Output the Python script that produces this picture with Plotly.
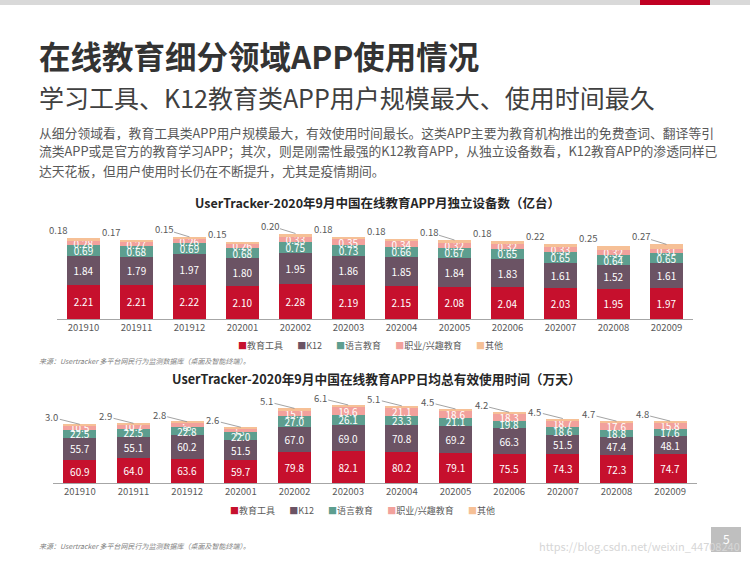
import plotly.graph_objects as go

months = ["201910", "201911", "201912", "202001", "202002", "202003",
          "202004", "202005", "202006", "202007", "202008", "202009"]
series_names = ["教育工具", "K12", "语言教育", "职业/兴趣教育", "其他"]

# Chart 1: monthly unique devices (亿台)
dev_tools = [2.21, 2.21, 2.22, 2.10, 2.28, 2.19, 2.15, 2.08, 2.04, 2.03, 1.95, 1.97]
dev_k12 = [1.84, 1.79, 1.97, 1.80, 1.95, 1.86, 1.85, 1.84, 1.83, 1.61, 1.52, 1.61]
dev_lang = [0.69, 0.68, 0.69, 0.68, 0.75, 0.73, 0.66, 0.67, 0.65, 0.65, 0.64, 0.65]
dev_voc = [0.28, 0.27, 0.26, 0.26, 0.33, 0.35, 0.34, 0.32, 0.32, 0.33, 0.32, 0.31]
dev_other = [0.18, 0.17, 0.15, 0.15, 0.20, 0.18, 0.18, 0.18, 0.18, 0.22, 0.25, 0.27]
dev_leader = [False, False, True, False, True, False, False, True, False, False, False, True]

# Chart 2: daily total effective usage time (万天)
time_tools = [60.9, 64.0, 63.6, 59.7, 79.8, 82.1, 80.2, 79.1, 75.5, 74.3, 72.3, 74.7]
time_k12 = [55.7, 55.1, 60.2, 51.5, 67.0, 69.0, 70.8, 69.2, 66.3, 51.5, 47.4, 48.1]
time_lang = [22.5, 22.5, 22.8, 22.0, 27.0, 26.1, 23.3, 21.1, 19.8, 18.6, 18.8, 17.6]
time_voc = [10.5, 10.7, 9.8, 9.2, 15.1, 19.6, 21.1, 18.6, 18.3, 18.7, 17.6, 15.8]
time_other = [3.0, 2.9, 2.8, 2.6, 5.1, 6.1, 5.1, 4.5, 4.2, 4.5, 4.7, 4.8]

colors = ["#C6102D", "#6B5364", "#5D9E8F", "#F2A19C", "#F6C096"]
FONT = "Noto Sans CJK SC"
W, H = 750, 562

fig = go.Figure()

dev_series = [dev_tools, dev_k12, dev_lang, dev_voc, dev_other]
time_series = [time_tools, time_k12, time_lang, time_voc, time_other]

for i, (name, vals) in enumerate(zip(series_names, dev_series)):
    fig.add_trace(go.Bar(
        x=months, y=vals, name=name, marker_color=colors[i], marker_line_width=0,
        text=None if i == 4 else [f"{v:.2f}" for v in vals],
        textposition="inside", insidetextanchor="middle",
        textfont=dict(color="white", size=10, family=FONT),
        xaxis="x", yaxis="y", showlegend=False, hoverinfo="skip"))

for i, (name, vals) in enumerate(zip(series_names, time_series)):
    fig.add_trace(go.Bar(
        x=months, y=vals, name=name, marker_color=colors[i], marker_line_width=0,
        text=None if i == 4 else [f"{v:.1f}" for v in vals],
        textposition="inside", insidetextanchor="middle",
        textfont=dict(color="white", size=10, family=FONT),
        xaxis="x2", yaxis="y2", showlegend=False, hoverinfo="skip"))

annotations = []
# outside labels for 其他
for j in range(len(months)):
    tot = dev_tools[j] + dev_k12[j] + dev_lang[j] + dev_voc[j] + dev_other[j]
    annotations.append(dict(
        x=j, y=tot, xref="x", yref="y", text=f"{dev_other[j]:.2f}",
        showarrow=True, arrowhead=0, arrowwidth=0.8,
        arrowcolor="#8C8C8C" if dev_leader[j] else "rgba(0,0,0,0)",
        ax=-26, ay=-8, standoff=0,
        font=dict(size=9.5, color="#595959", family=FONT)))
for j in range(len(months)):
    tot = time_tools[j] + time_k12[j] + time_lang[j] + time_voc[j] + time_other[j]
    annotations.append(dict(
        x=j, y=tot, xref="x2", yref="y2", text=f"{time_other[j]:.1f}",
        showarrow=True, arrowhead=0, arrowwidth=0.8, arrowcolor="#8C8C8C",
        ax=-28, ay=-7, standoff=0,
        font=dict(size=9.5, color="#595959", family=FONT)))


def py(v):
    return 1 - v / H


def px(v):
    return v / W


texts = [
    ("在线教育细分领域APP使用情况", 37, 55, 31.5, "#333333", "left", True),
    ("学习工具、K12教育类APP用户规模最大、使用时间最久", 37, 97, 25, "#404040", "left", False),
    ("从细分领域看，教育工具类APP用户规模最大，有效使用时间最长。这类APP主要为教育机构推出的免费查词、翻译等引",
     37, 132, 12.8, "#595959", "left", False),
    ("流类APP或是官方的教育学习APP；其次，则是刚需性最强的K12教育APP，从独立设备数看，K12教育APP的渗透同样已",
     37, 151, 12.8, "#595959", "left", False),
    ("达天花板，但用户使用时长仍在不断提升，尤其是疫情期间。", 37, 170, 12.8, "#595959", "left", False),
    ("UserTracker-2020年9月中国在线教育APP月独立设备数（亿台）", 377, 202, 12.5, "#262626", "center", True),
    ("UserTracker-2020年9月中国在线教育APP日均总有效使用时间（万天）", 376, 378, 12.7, "#262626", "center", True),
]
for t, x, y, s, c, anc, bold in texts:
    annotations.append(dict(
        x=px(x), y=py(y), xref="paper", yref="paper", text=f"<b>{t}</b>" if bold else t,
        showarrow=False, xanchor=anc, yanchor="middle",
        font=dict(size=s, color=c, family=FONT)))

# legends (compact, as in the slide)
gap = "\u00a0" * 7
legend_text = gap.join(
    f'<span style="color:{colors[i]}">■</span>{series_names[i]}' for i in range(len(series_names)))
for x, y in ((370, 345), (362, 510)):
    annotations.append(dict(
        x=px(x), y=py(y), xref="paper", yref="paper", text=legend_text,
        showarrow=False, xanchor="center", yanchor="middle",
        font=dict(size=9, color="#595959", family=FONT)))

for y in (361, 546):
    annotations.append(dict(
        x=px(37), y=py(y), xref="paper", yref="paper",
        text="<i>来源：Usertracker 多平台网民行为监测数据库（桌面及智能终端）。</i>",
        showarrow=False, xanchor="left", yanchor="middle",
        font=dict(size=7, color="#7F7F7F", family=FONT)))

annotations.append(dict(
    x=px(742), y=py(546), xref="paper", yref="paper",
    text="https://blog.csdn.net/weixin_44708240", showarrow=False,
    xanchor="right", yanchor="middle", font=dict(size=11, color="#D6D6D6", family=FONT)))
annotations.append(dict(
    x=px(726), y=py(538), xref="paper", yref="paper", text="5", showarrow=False,
    xanchor="center", yanchor="middle", font=dict(size=12, color="white", family=FONT)))

shapes = [
    dict(type="rect", xref="paper", yref="paper", x0=0, x1=1, y0=py(5), y1=1,
         fillcolor="#D9D9D9", line_width=0, layer="below"),
    dict(type="rect", xref="paper", yref="paper", x0=px(640), x1=px(710), y0=py(5), y1=1,
         fillcolor="#C00022", line_width=0),
    dict(type="rect", xref="paper", yref="paper", x0=px(711), x1=px(741), y0=py(552), y1=py(527),
         fillcolor="#BFBFBF", line_width=0, layer="below"),
]

axis_x = dict(type="category", showline=True, linecolor="#A6A6A6", linewidth=1,
              showgrid=False, ticks="", zeroline=False, range=[-0.5, 11.5],
              tickfont=dict(size=9.5, color="#595959", family=FONT), fixedrange=True)
axis_y = dict(visible=False, showgrid=False, zeroline=False, fixedrange=True)

fig.update_layout(
    width=W, height=H, autosize=False,
    margin=dict(l=0, r=0, t=0, b=0),
    paper_bgcolor="white", plot_bgcolor="rgba(0,0,0,0)",
    barmode="stack", bargap=0.38,
    font=dict(family=FONT),
    uniformtext=dict(minsize=10, mode="show"),
    xaxis=dict(axis_x, domain=[px(57), px(693)], anchor="y"),
    yaxis=dict(axis_y, domain=[py(319), py(229)], range=[0, 5.8], anchor="x"),
    xaxis2=dict(axis_x, domain=[px(53), px(697)], anchor="y2"),
    yaxis2=dict(axis_y, domain=[py(483), py(398)], range=[0, 221], anchor="x2"),
    showlegend=False,
    annotations=annotations, shapes=shapes,
)

fig.write_html("out.html", config={"displayModeBar": False},
               post_script="document.body.style.margin='0';document.body.style.overflow='hidden';")
